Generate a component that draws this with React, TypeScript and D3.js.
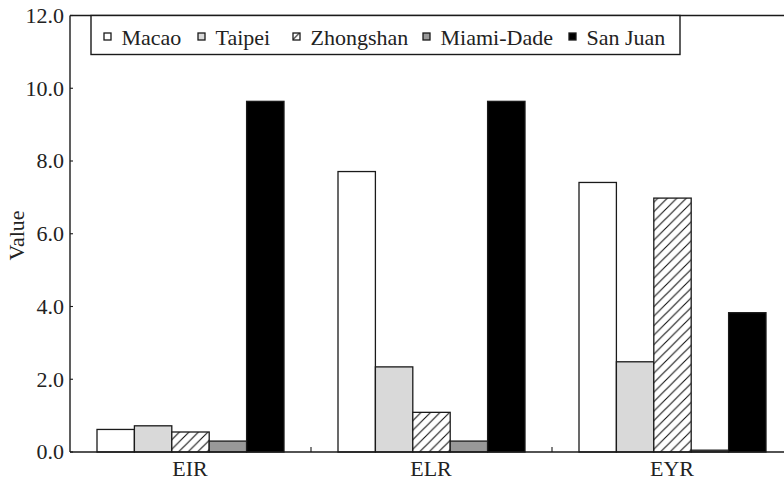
import React from "react";
import * as d3 from "d3";

const categories = ["EIR", "ELR", "EYR"];
const seriesNames = ["Macao", "Taipei", "Zhongshan", "Miami-Dade", "San Juan"];
const macao = [0.62, 7.71, 7.41];
const taipei = [0.72, 2.34, 2.48];
const zhongshan = [0.55, 1.09, 6.98];
const miamiDade = [0.3, 0.3, 0.05];
const sanJuan = [9.64, 9.64, 3.83];
const yTicks = [0, 2, 4, 6, 8, 10, 12];

const seriesValues = [macao, taipei, zhongshan, miamiDade, sanJuan];
const fills = ["#ffffff", "#d9d9d9", "url(#hatch)", "#999999", "#000000"];
const legendX = [104, 198, 293, 423, 569];

const W = 784;
const H = 482;
const left = 70;
const top = 15.5;
const bottom = 452;
const right = 793;
const FONT = "Liberation Serif, Times New Roman, DejaVu Serif, serif";
const textStyle: React.CSSProperties = { fontFamily: FONT, fontSize: "22px" };

export default function App() {
  const x = d3.scaleBand<string>().domain(categories).range([left, right]).padding(0);
  const inner = d3
    .scaleBand<string>()
    .domain(seriesNames)
    .range([27, x.bandwidth() - 27])
    .padding(0);
  const y = d3.scaleLinear().domain([0, 12]).range([bottom, top]);
  const fmt = d3.format(".1f");
  const stroke = "#1a1a1a";

  return (
    <svg
      width={W}
      height={H}
      style={{ position: "absolute", left: 0, top: 0, background: "#fff" }}
    >
      <defs>
        <pattern id="hatch" patternUnits="userSpaceOnUse" width={9.5} height={9.5}>
          <rect width={9.5} height={9.5} fill="#fff" />
          <path
            d="M0,9.5 L9.5,0 M-2,2 L2,-2 M7.5,11.5 L11.5,7.5"
            stroke="#111"
            strokeWidth={1.1}
          />
        </pattern>
      </defs>

      {categories.map((c, ci) => (
        <g key={c} transform={`translate(${x(c)},0)`}>
          {seriesNames.map((s, si) => {
            const v = seriesValues[si][ci];
            return (
              <rect
                key={s}
                x={inner(s)}
                y={y(v)}
                width={inner.bandwidth()}
                height={bottom - y(v)}
                fill={fills[si]}
                stroke={stroke}
                strokeWidth={1.3}
              />
            );
          })}
        </g>
      ))}

      <line x1={left} x2={W + 10} y1={top} y2={top} stroke={stroke} strokeWidth={1.4} />
      <line x1={left} x2={W + 10} y1={bottom} y2={bottom} stroke={stroke} strokeWidth={1.4} />
      <line x1={left} x2={left} y1={top} y2={bottom} stroke={stroke} strokeWidth={1.4} />

      {yTicks.map((t) => (
        <g key={t}>
          <line x1={left} x2={left + 3} y1={y(t)} y2={y(t)} stroke={stroke} strokeWidth={1.1} />
          <text x={64} y={y(t)} dy="0.34em" textAnchor="end" style={textStyle} fill="#222">
            {fmt(t)}
          </text>
        </g>
      ))}

      {categories.slice(1).map((c) => (
        <line
          key={c}
          x1={x(c)}
          x2={x(c)}
          y1={bottom}
          y2={bottom - 5}
          stroke={stroke}
          strokeWidth={1.1}
        />
      ))}
      {categories.map((c) => (
        <text
          key={c}
          x={(x(c) as number) + x.bandwidth() / 2 - 0.5}
          y={476}
          textAnchor="middle"
          style={textStyle}
          fill="#222"
        >
          {c}
        </text>
      ))}

      <text
        transform={`translate(24,235.5) rotate(-90)`}
        textAnchor="middle"
        style={textStyle}
        fill="#222"
      >
        Value
      </text>

      <rect
        x={91}
        y={top}
        width={589}
        height={39}
        fill="#fff"
        stroke={stroke}
        strokeWidth={1.4}
      />
      {seriesNames.map((s, i) => (
        <g key={s}>
          <rect
            x={legendX[i]}
            y={33}
            width={7}
            height={7}
            fill={fills[i]}
            stroke={stroke}
            strokeWidth={1.3}
          />
          <text x={legendX[i] + 17.5} y={45} style={textStyle} fill="#222">
            {s}
          </text>
        </g>
      ))}
    </svg>
  );
}
